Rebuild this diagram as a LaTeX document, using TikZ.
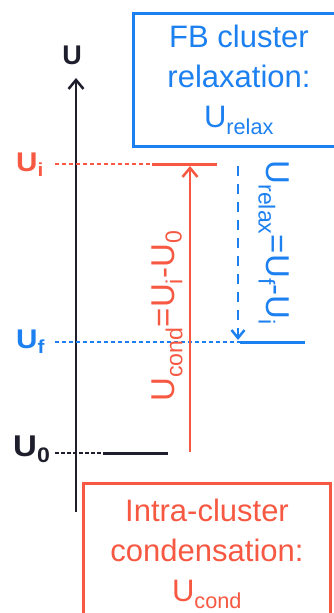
\documentclass[tikz,border=0pt]{standalone}
\usepackage{fontspec}
\setmainfont{Liberation Sans}
\usetikzlibrary{arrows.meta}
\definecolor{condred}{RGB}{246,88,66}
\definecolor{relaxblue}{RGB}{28,128,240}
\definecolor{axisblack}{RGB}{30,30,45}
\begin{document}
\begin{tikzpicture}[x=1pt,y=-1pt]
      \useasboundingbox (0,0) rectangle (334,613);

      \tikzstyle{box} = [
        rectangle,
        draw,
        line width=3pt,
        align=center,
        inner sep=0pt,
        font=\fontsize{31}{40}\selectfont
      ]
      \tikzstyle{levellabel} = [
        anchor=base west,
        inner sep=0pt,
        xscale=1.1,
        transform shape,
        font=\bfseries
      ]
      \tikzstyle{level} = [line width=3pt]
      \tikzstyle{guide} = [line width=1.4pt, dash pattern=on 4pt off 3pt]
      \tikzstyle{arrow} = [line width=2.5pt, ->, >={Straight Barb[length=9pt,width=15pt]}]

      % axis
      \coordinate (axisBottom) at (76,512);
      \coordinate (axisTop) at (76,78);
      \draw[arrow, draw=axisblack] (axisBottom) -- (axisTop);
      \node[font=\bfseries\fontsize{27}{27}\selectfont, text=axisblack] (axisLabel) at (72,55) {U};

      % boxes
      \node[box, draw=relaxblue, text=relaxblue, minimum width=212pt, minimum height=133pt] (relaxBox) at (239,80)
        {FB cluster\\relaxation:\\U\textsubscript{relax}};
      \node[box, draw=condred, text=condred, minimum width=247pt, minimum height=142pt] (condBox) at (207,554)
        {Intra-cluster\\condensation:\\U\textsubscript{cond}};

      % level U_i
      \node[levellabel, text=condred, font=\bfseries\fontsize{27}{27}\selectfont] (lblUi) at (16,171) {U\textsubscript{i}};
      \coordinate (uiDash) at (55,164);
      \coordinate (uiStart) at (152,164);
      \coordinate (uiEnd) at (217,164);
      \draw[guide, draw=condred] (uiDash) -- (uiStart);
      \draw[level, draw=condred] (uiStart) -- (uiEnd);

      % level U_f
      \node[levellabel, text=relaxblue, font=\bfseries\fontsize{27}{27}\selectfont] (lblUf) at (16,348) {U\textsubscript{f}};
      \coordinate (ufDash) at (55,342);
      \coordinate (ufStart) at (240,342);
      \coordinate (ufEnd) at (305,342);
      \draw[guide, draw=relaxblue] (ufDash) -- (ufStart);
      \draw[level, draw=relaxblue] (ufStart) -- (ufEnd);

      % level U_0
      \node[levellabel, text=axisblack, font=\bfseries\fontsize{30}{30}\selectfont] (lblU0) at (13,456) {U\textsubscript{0}};
      \coordinate (u0Dash) at (55,453);
      \coordinate (u0Start) at (103,453);
      \coordinate (u0End) at (168,453);
      \draw[guide, draw=axisblack, dash pattern=on 4pt off 2pt] (u0Dash) -- (u0Start);
      \draw[level, draw=axisblack] (u0Start) -- (u0End);

      % condensation
      \coordinate (condFrom) at (190,452);
      \coordinate (condTo) at (190,166);
      \draw[arrow, draw=condred] (condFrom) -- (condTo);
      \node[rotate=90, text=condred, font=\fontsize{33}{33}\selectfont] (condLabel) at (167,316)
        {U\textsubscript{cond}=U\textsubscript{i}-U\textsubscript{0}};

      % relaxation
      \coordinate (relaxFrom) at (238,166);
      \coordinate (relaxTo) at (238,340);
      \draw[arrow, draw=relaxblue, dash pattern=on 10pt off 8pt, >={Straight Barb[length=8pt,width=13pt]}] (relaxFrom) -- (relaxTo);
      \node[rotate=-90, text=relaxblue, font=\fontsize{33}{33}\selectfont] (relaxLabel) at (274,243)
        {U\textsubscript{relax}=U\textsubscript{f}-U\textsubscript{i}};
\end{tikzpicture}
\end{document}
